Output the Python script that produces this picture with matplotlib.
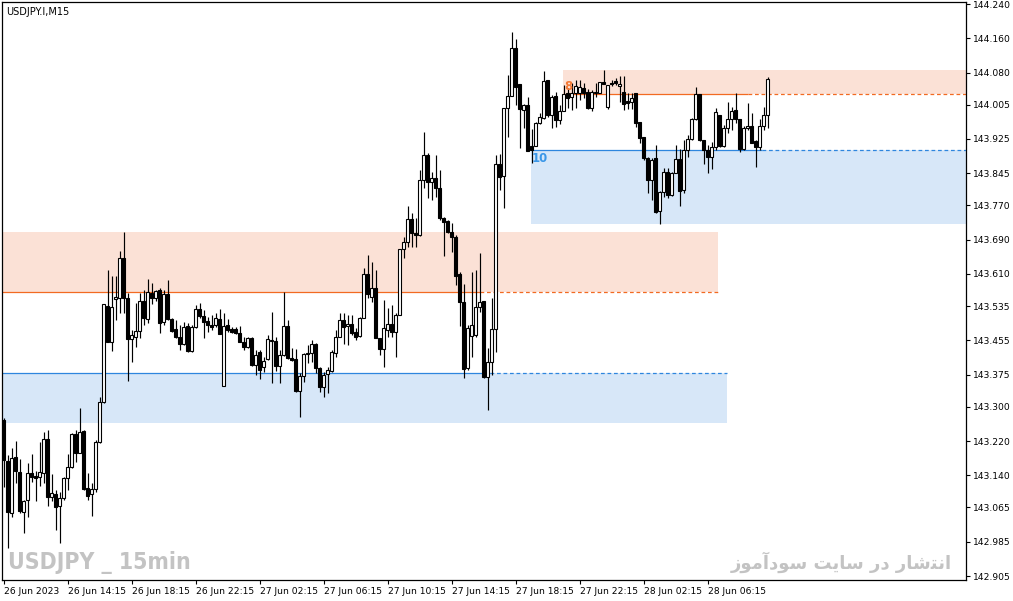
import matplotlib
matplotlib.use('Agg')
import matplotlib.pyplot as plt
import numpy as np

# USDJPY.I M15 candles, 26 Jun 2023 10:15 onwards
opens = [
    143.269, 143.173, 143.052, 143.183, 143.147, 143.054, 143.082, 143.145, 143.138, 143.136,
    143.145, 143.225, 143.089, 143.096, 143.068, 143.087, 143.134, 143.159, 143.236, 143.192,
    143.243, 143.110, 143.096, 143.108, 143.218, 143.311, 143.535, 143.451, 143.551, 143.554,
    143.647, 143.554, 143.458, 143.463, 143.476, 143.546, 143.505, 143.565, 143.554, 143.572,
    143.498, 143.563, 143.505, 143.481, 143.463, 143.446, 143.488, 143.430, 143.486, 143.528,
    143.512, 143.500, 143.490, 143.490, 143.505, 143.348, 143.490, 143.481, 143.481, 143.472,
    143.451, 143.439, 143.460, 143.397, 143.428, 143.393, 143.411, 143.453, 143.453, 143.395,
    143.421, 143.488, 143.414, 143.411, 143.336, 143.371, 143.425, 143.425, 143.446, 143.390,
    143.346, 143.376, 143.383, 143.425, 143.463, 143.502, 143.488, 143.493, 143.474, 143.465,
    143.507, 143.610, 143.556, 143.577, 143.460, 143.435, 143.479, 143.493, 143.474, 143.514,
    143.668, 143.684, 143.738, 143.705, 143.701, 143.829, 143.887, 143.824, 143.834, 143.810,
    143.740, 143.733, 143.708, 143.696, 143.610, 143.544, 143.390, 143.465, 143.467, 143.533,
    143.546, 143.369, 143.404, 143.481, 143.866, 143.838, 143.997, 144.025, 144.137, 144.053,
    143.992, 144.004, 143.908, 143.908, 143.962, 143.974, 144.062, 143.981, 144.025, 143.969,
    143.990, 144.032, 144.023, 144.032, 144.032, 144.044, 144.034, 143.997, 144.032, 144.032,
    144.058, 144.000, 144.055, 144.060, 144.048, 144.034, 144.013, 144.011, 144.032, 143.964,
    143.929, 143.880, 143.829, 143.880, 143.757, 143.801, 143.848, 143.794, 143.845, 143.878,
    143.806, 143.899, 143.925, 143.971, 144.030, 143.922, 143.899, 143.883, 143.906, 143.981,
    143.908, 143.950, 143.971, 143.992, 143.971, 143.901, 143.950, 143.955, 143.920, 143.906,
    143.955, 143.981,
]
highs = [
    143.273, 143.187, 143.203, 143.220, 143.178, 143.082, 143.168, 143.190, 143.150, 143.217,
    143.241, 143.246, 143.143, 143.106, 143.101, 143.136, 143.190, 143.238, 143.246, 143.297,
    143.246, 143.145, 143.122, 143.222, 143.323, 143.540, 143.619, 143.605, 143.605, 143.663,
    143.708, 143.565, 143.479, 143.542, 143.565, 143.572, 143.598, 143.588, 143.572, 143.577,
    143.572, 143.596, 143.507, 143.502, 143.490, 143.498, 143.495, 143.490, 143.537, 143.542,
    143.526, 143.509, 143.514, 143.519, 143.528, 143.519, 143.505, 143.486, 143.486, 143.488,
    143.463, 143.463, 143.462, 143.432, 143.432, 143.416, 143.467, 143.521, 143.463, 143.432,
    143.568, 143.502, 143.437, 143.435, 143.378, 143.425, 143.444, 143.456, 143.448, 143.392,
    143.381, 143.393, 143.432, 143.479, 143.519, 143.519, 143.514, 143.514, 143.484, 143.509,
    143.624, 143.654, 143.637, 143.619, 143.460, 143.549, 143.530, 143.537, 143.519, 143.668,
    143.696, 143.768, 143.752, 143.740, 143.852, 143.941, 143.892, 143.848, 143.887, 143.852,
    143.743, 143.735, 143.729, 143.701, 143.614, 143.586, 143.491, 143.614, 143.619, 143.659,
    143.548, 143.437, 143.553, 143.887, 143.890, 143.997, 144.074, 144.174, 144.158, 144.053,
    144.006, 144.023, 143.948, 143.964, 143.985, 144.083, 144.062, 144.027, 144.034, 144.004,
    144.051, 144.044, 144.055, 144.062, 144.062, 144.055, 144.041, 144.039, 144.055, 144.058,
    144.086, 144.051, 144.062, 144.067, 144.072, 144.072, 144.032, 144.032, 144.032, 143.964,
    143.929, 143.883, 143.880, 143.911, 143.803, 143.857, 143.857, 143.848, 143.911, 143.901,
    143.922, 143.934, 143.974, 144.046, 144.030, 143.922, 143.911, 143.918, 143.997, 143.981,
    143.957, 144.011, 143.999, 144.032, 143.971, 143.955, 144.009, 143.985, 143.922, 143.971,
    143.999, 144.069,
]
lows = [
    143.113, 142.970, 143.043, 143.122, 143.052, 143.005, 143.043, 143.124, 143.080, 143.115,
    143.122, 143.068, 143.080, 143.012, 142.982, 143.082, 143.106, 143.157, 143.171, 143.192,
    143.106, 143.082, 143.045, 143.101, 143.215, 143.309, 143.451, 143.430, 143.502, 143.519,
    143.519, 143.360, 143.404, 143.439, 143.460, 143.490, 143.495, 143.539, 143.546, 143.472,
    143.490, 143.502, 143.474, 143.460, 143.432, 143.444, 143.428, 143.428, 143.484, 143.507,
    143.460, 143.474, 143.479, 143.486, 143.470, 143.348, 143.474, 143.472, 143.470, 143.451,
    143.432, 143.437, 143.395, 143.374, 143.364, 143.381, 143.409, 143.355, 143.383, 143.355,
    143.418, 143.411, 143.407, 143.334, 143.276, 143.357, 143.402, 143.404, 143.378, 143.334,
    143.322, 143.332, 143.381, 143.416, 143.463, 143.446, 143.444, 143.467, 143.456, 143.463,
    143.507, 143.554, 143.544, 143.460, 143.421, 143.393, 143.463, 143.463, 143.416, 143.514,
    143.647, 143.673, 143.673, 143.673, 143.698, 143.810, 143.787, 143.782, 143.789, 143.736,
    143.652, 143.706, 143.661, 143.584, 143.488, 143.367, 143.386, 143.416, 143.463, 143.521,
    143.367, 143.292, 143.374, 143.428, 143.806, 143.764, 143.929, 144.025, 144.004, 143.904,
    143.950, 143.897, 143.869, 143.908, 143.960, 143.971, 143.976, 143.950, 143.953, 143.960,
    143.990, 143.997, 143.992, 143.997, 144.016, 144.020, 143.995, 143.990, 144.023, 144.032,
    144.053, 143.995, 144.048, 144.051, 144.011, 143.992, 143.995, 143.995, 143.953, 143.915,
    143.876, 143.799, 143.782, 143.752, 143.726, 143.789, 143.787, 143.792, 143.845, 143.768,
    143.799, 143.883, 143.922, 143.969, 143.920, 143.866, 143.845, 143.855, 143.899, 143.906,
    143.906, 143.939, 143.946, 143.962, 143.894, 143.899, 143.946, 143.915, 143.859, 143.899,
    143.946, 143.950,
]
closes = [
    143.176, 143.054, 143.180, 143.150, 143.057, 143.080, 143.145, 143.136, 143.134, 143.147,
    143.225, 143.089, 143.099, 143.066, 143.087, 143.134, 143.159, 143.236, 143.192, 143.241,
    143.108, 143.092, 143.108, 143.218, 143.311, 143.540, 143.451, 143.533, 143.556, 143.647,
    143.554, 143.458, 143.467, 143.476, 143.546, 143.507, 143.568, 143.554, 143.570, 143.495,
    143.563, 143.505, 143.476, 143.463, 143.446, 143.486, 143.430, 143.486, 143.528, 143.512,
    143.498, 143.490, 143.486, 143.507, 143.470, 143.488, 143.479, 143.474, 143.472, 143.451,
    143.439, 143.460, 143.397, 143.421, 143.386, 143.407, 143.458, 143.456, 143.395, 143.421,
    143.488, 143.414, 143.409, 143.336, 143.371, 143.423, 143.423, 143.446, 143.390, 143.346,
    143.374, 143.386, 143.428, 143.463, 143.502, 143.486, 143.493, 143.472, 143.463, 143.507,
    143.610, 143.563, 143.577, 143.460, 143.435, 143.484, 143.493, 143.474, 143.514, 143.668,
    143.684, 143.738, 143.705, 143.701, 143.829, 143.887, 143.824, 143.834, 143.810, 143.740,
    143.731, 143.708, 143.696, 143.605, 143.544, 143.388, 143.484, 143.491, 143.533, 143.544,
    143.369, 143.404, 143.481, 143.866, 143.836, 143.997, 144.025, 144.137, 144.046, 143.995,
    144.004, 143.897, 143.899, 143.962, 143.976, 144.060, 143.981, 144.023, 143.969, 143.990,
    144.030, 144.020, 144.032, 144.048, 144.046, 144.032, 143.997, 144.034, 144.034, 144.058,
    144.053, 144.051, 144.053, 144.055, 144.053, 144.006, 144.009, 144.020, 143.962, 143.927,
    143.880, 143.829, 143.876, 143.754, 143.801, 143.848, 143.794, 143.845, 143.878, 143.803,
    143.899, 143.925, 143.971, 144.030, 143.922, 143.899, 143.883, 143.906, 143.988, 143.908,
    143.950, 143.971, 143.990, 143.971, 143.901, 143.950, 143.955, 143.915, 143.906, 143.955,
    143.981, 144.065,
]

# supply / demand zones: (first bar, last bar, top, bottom, level, bar where line turns dashed)
zone_starts = [-0.4, -0.4, 139.9, 131.9]
zone_ends = [178.6, 180.9, 240.6, 240.6]
zone_tops = [143.708, 143.378, 144.086, 143.899]
zone_bottoms = [143.568, 143.262, 144.030, 143.726]
zone_levels = [143.568, 143.378, 144.030, 143.899]
zone_solid_to = [119.1, 121.6, 186.2, 189.5]
zone_kinds = ['supply', 'demand', 'supply', 'demand']
zone_tags = ['', '', '8', '10']

ytick_values = [144.240, 144.160, 144.080, 144.005, 143.925, 143.845, 143.770, 143.690,
                143.610, 143.535, 143.455, 143.375, 143.300, 143.220, 143.140, 143.065,
                142.985, 142.905]
xtick_bars = [0, 16, 32, 48, 64, 80, 96, 112, 128, 144, 160, 176]
xtick_labels = ['26 Jun 2023', '26 Jun 14:15', '26 Jun 18:15', '26 Jun 22:15',
                '27 Jun 02:15', '27 Jun 06:15', '27 Jun 10:15', '27 Jun 14:15',
                '27 Jun 18:15', '27 Jun 22:15', '28 Jun 02:15', '28 Jun 06:15']

# "انتشار در سایت سودآموز" written in shaped presentation forms, visual order
site_note = ('\ufeaf\ufeee\ufee3\ufe81\ufea9\ufeee\ufeb3 '
             '\ufe96\ufef3\ufe8e\ufeb3 '
             '\ufead\ufea9 '
             '\ufead\ufe8e\ufeb7\ufe98\ufee7\ufe8d')

fill_colors = {'supply': '#fbe1d6', 'demand': '#d7e7f8'}
line_colors = {'supply': '#f26a22', 'demand': '#2e86de'}
tag_colors = {'supply': '#f47a36', 'demand': '#3a97e8'}

fig = plt.figure(figsize=(10.13, 6.01), dpi=100)
ax = fig.add_axes([2 / 1013, 21 / 601, 964 / 1013, 578 / 601])

for s, e, top, bot, lvl, sol, kind, tag in zip(zone_starts, zone_ends, zone_tops, zone_bottoms,
                                               zone_levels, zone_solid_to, zone_kinds, zone_tags):
    ax.fill_between([s, e], bot, top, color=fill_colors[kind], linewidth=0, zorder=1)
    lc = line_colors[kind]
    ax.plot([s, sol], [lvl, lvl], color=lc, linewidth=0.9, zorder=2, solid_capstyle='butt')
    ax.plot([sol, e], [lvl, lvl], color=lc, linewidth=0.9, zorder=2, linestyle=(0, (3, 2.2)))
    if tag:
        ty = lvl + 0.017 if kind == 'supply' else lvl - 0.019
        ax.text(s + 0.2, ty, tag, color=tag_colors[kind], fontsize=8.5, fontweight='bold',
                ha='left', va='center', zorder=6)

o = np.array(opens)
h = np.array(highs)
l = np.array(lows)
c = np.array(closes)
x = np.arange(len(o))
up = c >= o

ax.vlines(x, l, h, color='black', linewidth=0.85, zorder=3, snap=True)
ax.bar(x, np.maximum(np.abs(c - o), 0.0015), bottom=np.minimum(o, c), width=0.56,
       color=np.where(up, 'white', 'black'), edgecolor='black', linewidth=0.8, zorder=4)

ax.set_xlim(-0.375, 240.6)
ax.set_ylim(142.8957, 144.2447)

for sp in ax.spines.values():
    sp.set_color('black')
    sp.set_linewidth(0.9)

ax.yaxis.tick_right()
ax.set_yticks(ytick_values)
ax.set_yticklabels([f'{v:.3f}' for v in ytick_values])
ax.tick_params(axis='y', direction='out', length=3, width=0.8, labelsize=6.6, pad=2)
ax.set_xticks(xtick_bars)
ax.set_xticklabels(xtick_labels)
ax.tick_params(axis='x', direction='out', length=3, width=0.8, labelsize=6.6, pad=2)
for lab in ax.get_xticklabels():
    lab.set_ha('left')

ax.text(0.004, 0.992, 'USDJPY.I,M15', transform=ax.transAxes, fontsize=7,
        ha='left', va='top', color='black')

ax.text(0.006, 0.01, 'USDJPY _ 15min', transform=ax.transAxes, family='DejaVu Sans',
        fontstretch='condensed', fontsize=16.5, fontweight='bold', color='#c3c3c3',
        ha='left', va='bottom', zorder=7)
ax.text(0.9855, 0.012, site_note, transform=ax.transAxes, family='DejaVu Sans',
        fontsize=13, fontweight='bold', color='#c3c3c3', ha='right', va='bottom', zorder=7)

fig.savefig('out.png', dpi=100, facecolor='white')
